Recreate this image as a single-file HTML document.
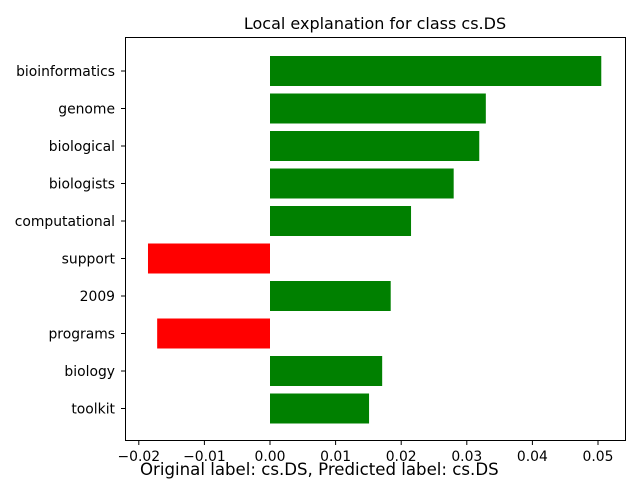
<!DOCTYPE html>
<html><head><meta charset="utf-8"><style>
body{margin:0;background:#fff;}
svg text{font-family:"DejaVu Sans","Liberation Sans",sans-serif;fill:#000;}
</style></head><body>
<svg id="chart" width="640" height="480" viewBox="0 0 640 480" xmlns="http://www.w3.org/2000/svg">
<rect width="640" height="480" fill="#fff"/>
<text x="375" y="29" font-size="16" text-anchor="middle">Local explanation for class cs.DS</text>
<g id="bars"></g>
<g id="yticks"></g>
<g id="xticks"></g>
<rect x="125.5" y="37.5" width="500" height="403" fill="none" stroke="#000" stroke-width="1"/>
<text x="140" y="475" font-size="16.6">Original label: cs.DS, Predicted label: cs.DS</text>
</svg>
<script>
const features = ["bioinformatics","genome","biological","biologists","computational","support","2009","programs","biology","toolkit"];
const weights = [0.0505,0.0329,0.0319,0.0280,0.0215,-0.0186,0.0184,-0.0172,0.0171,0.0151];
const xTickValues = [-0.02,-0.01,0.00,0.01,0.02,0.03,0.04,0.05];
const xTickLabels = ["\u22120.02","\u22120.01","0.00","0.01","0.02","0.03","0.04","0.05"];

const NS="http://www.w3.org/2000/svg";
const x0=270, pxPerUnit=6560;
function xScale(v){return x0+v*pxPerUnit;}
function yScale(i){return 71+i*37.5;}
const bh=30;
const bars=document.getElementById('bars'), yt=document.getElementById('yticks'), xt=document.getElementById('xticks');
features.forEach((f,i)=>{
  const v=weights[i];
  const r=document.createElementNS(NS,'rect');
  const a=xScale(Math.min(0,v)), b=xScale(Math.max(0,v));
  r.setAttribute('x',a);r.setAttribute('width',b-a);
  r.setAttribute('y',yScale(i)-bh/2);r.setAttribute('height',bh);
  r.setAttribute('fill',v>=0?'#008000':'#ff0000');
  
  
  bars.appendChild(r);
  const tk=document.createElementNS(NS,'line');
  tk.setAttribute('x1',121);tk.setAttribute('x2',125);tk.setAttribute('y1',yScale(i));tk.setAttribute('y2',yScale(i));tk.setAttribute('stroke','#000');
  
  
  yt.appendChild(tk);
  const t=document.createElementNS(NS,'text');
  t.setAttribute('x',115);t.setAttribute('y',yScale(i)+5);t.setAttribute('font-size','13.9');t.setAttribute('text-anchor','end');
  t.textContent=f;
  
  
  yt.appendChild(t);
});
xTickValues.forEach((v,i)=>{
  const x=xScale(v);
  const tk=document.createElementNS(NS,'line');
  tk.setAttribute('x1',x);tk.setAttribute('x2',x);tk.setAttribute('y1',441);tk.setAttribute('y2',445);tk.setAttribute('stroke','#000');
  
  
  xt.appendChild(tk);
  const t=document.createElementNS(NS,'text');
  t.setAttribute('x',x);t.setAttribute('y',461);t.setAttribute('font-size','13.9');t.setAttribute('text-anchor','middle');
  t.textContent=xTickLabels[i];
  
  
  xt.appendChild(t);
});
</script>
</body></html>
